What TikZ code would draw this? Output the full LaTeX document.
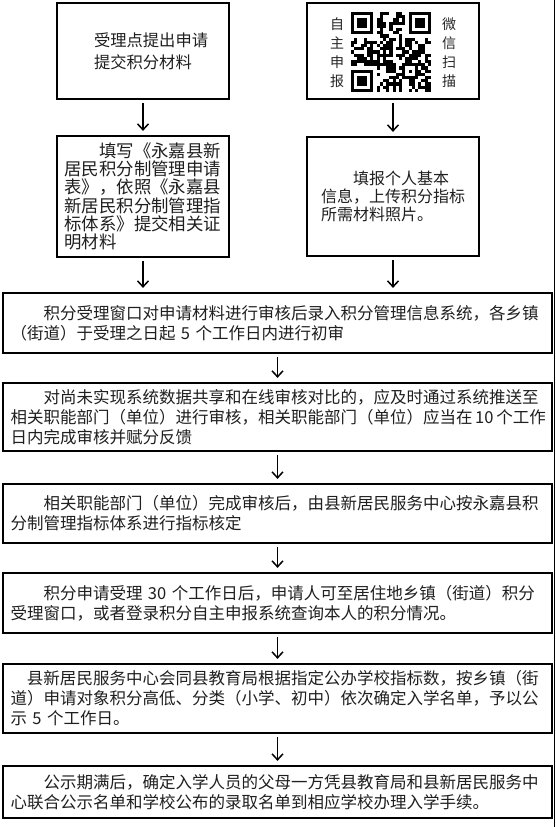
\documentclass[tikz,border=0pt]{standalone}
\usepackage{fontspec}
\setmainfont{Noto Sans CJK SC}
\newfontfamily\cjk{Noto Sans CJK SC}
\usetikzlibrary{arrows.meta}
\newcommand\qrfinder[2]{%
  \fill (#1,#2) rectangle ++(22.4,22.4);
  \fill[white] (#1+3.2,#2+3.2) rectangle ++(16,16);
  \fill (#1+6.4,#2+6.4) rectangle ++(9.6,9.6);}
\begin{document}
\begin{tikzpicture}[x=1pt,y=-1pt,
  box/.style={draw=black, line width=2.2pt, inner sep=0pt, align=left, text=black!88},
  wide/.style={box, minimum width=549pt, text width=534pt,
    font=\cjk\fontsize{16.5}{20}\selectfont},
  arr/.style={line width=1.5pt, -{Straight Barb[length=6pt,width=11pt]},
    shorten <=3pt, shorten >=4pt},
  side/.style={font=\cjk\fontsize{14}{19}\selectfont, align=center, text=black!85}]
\fill[white] (0,0) rectangle (556,827);
\useasboundingbox (0,0) rectangle (556,827);

% top row
\node[box, minimum width=172pt, minimum height=96pt, text width=130pt,
  font=\cjk\fontsize{16.3}{22}\selectfont] (b1) at (143,51)
  {\hspace*{16pt}受理点提出申请\\\hspace*{16pt}提交积分材料};
\node[box, minimum width=172pt, minimum height=96pt] (qr) at (393,51) {};
\node[side] (zz) at (337,53) {自\\主\\申\\报};
\node[side] (wx) at (449,53) {微\\信\\扫\\描};

% QR pattern
\qrfinder{351}{12}
\qrfinder{408.6}{12}
\qrfinder{351}{69.6}
\fill (402.2,63.2) rectangle ++(16,16);
\fill[white] (405.4,66.4) rectangle ++(9.6,9.6);
\fill (408.6,69.6) rectangle ++(3.2,3.2);
\pgfmathsetseed{20190522}
\foreach \i in {0,...,24}{
  \foreach \j in {0,...,24}{
    \pgfmathtruncatemacro\qs{((\i<8)&&(\j<8))||((\i>16)&&(\j<8))||((\i<8)&&(\j>16))||((\i>15)&&(\i<21)&&(\j>15)&&(\j<21))}
    \pgfmathtruncatemacro\qd{(1-\qs)*(rnd>0.42)}
    \ifnum\qd=1 \fill (351+3.2*\i,12+3.2*\j) rectangle ++(3.2,3.2); \fi
  }
}

% second row
\node[box, minimum width=172pt, minimum height=121pt, text width=157pt,
  font=\cjk\fontsize{17.4}{18.3}\selectfont] (b3) at (143,196.5)
  {\hspace*{2em}填写《永嘉县新\\居民积分制管理申请\\表》，依照《永嘉县\\新居民积分制管理指\\标体系》提交相关证\\明材料};
\node[box, minimum width=172pt, minimum height=119pt, text width=144pt,
  font=\cjk\fontsize{16}{18}\selectfont] (b4) at (393,196.5)
  {\hspace*{2em}填报个人基本\\信息，上传积分指标\\所需材料照片。};

% full-width boxes
\node[wide, minimum height=60pt] (b5) at (277.5,323)
  {\hspace*{2em}积分受理窗口对申请材料进行审核后录入积分管理信息系统，各乡镇\\（街道）于受理之日起 5 个工作日内进行初审};
\node[wide, minimum height=68pt] (b6) at (277.5,417)
  {\hspace*{2em}对尚未实现系统数据共享和在线审核对比的，应及时通过系统推送至\\相关职能部门（单位）进行审核，相关职能部门（单位）应当在\,10\,个工作\\日内完成审核并赋分反馈};
\node[wide, minimum height=59pt] (b7) at (277.5,513.5)
  {\hspace*{2em}相关职能部门（单位）完成审核后，由县新居民服务中心按永嘉县积\\分制管理指标体系进行指标核定};
\node[wide, minimum height=60pt] (b8) at (277.5,603)
  {\hspace*{2em}积分申请受理 30 个工作日后，申请人可至居住地乡镇（街道）积分\\受理窗口，或者登录积分自主申报系统查询本人的积分情况。};
\node[wide, minimum height=69pt] (b9) at (277.5,698.5)
  {\hspace*{1em}县新居民服务中心会同县教育局根据指定公办学校指标数，按乡镇（街\\道）申请对象积分高低、分类（小学、初中）依次确定入学名单，予以公\\示 5 个工作日。};
\node[wide, minimum height=52pt] (b10) at (277.5,792)
  {\hspace*{2em}公示期满后，确定入学人员的父母一方凭县教育局和县新居民服务中\\心联合公示名单和学校公布的录取名单到相应学校办理入学手续。};

% connectors
\draw[arr] (b1.south) -- (b3.north);
\draw[arr] (qr.south) -- (b4.north);
\draw[arr] (b3.south) -- (b3.south |- b5.north);
\draw[arr] (b4.south) -- (b4.south |- b5.north);
\draw[arr] (b5.south) -- (b6.north);
\draw[arr] (b6.south) -- (b7.north);
\draw[arr] (b7.south) -- (b8.north);
\draw[arr] (b8.south) -- (b9.north);
\draw[arr] (b9.south) -- (b10.north);

% right margin rule
\draw[line width=1.3pt] (554.8,0) -- (554.8,827);
\end{tikzpicture}
\end{document}
